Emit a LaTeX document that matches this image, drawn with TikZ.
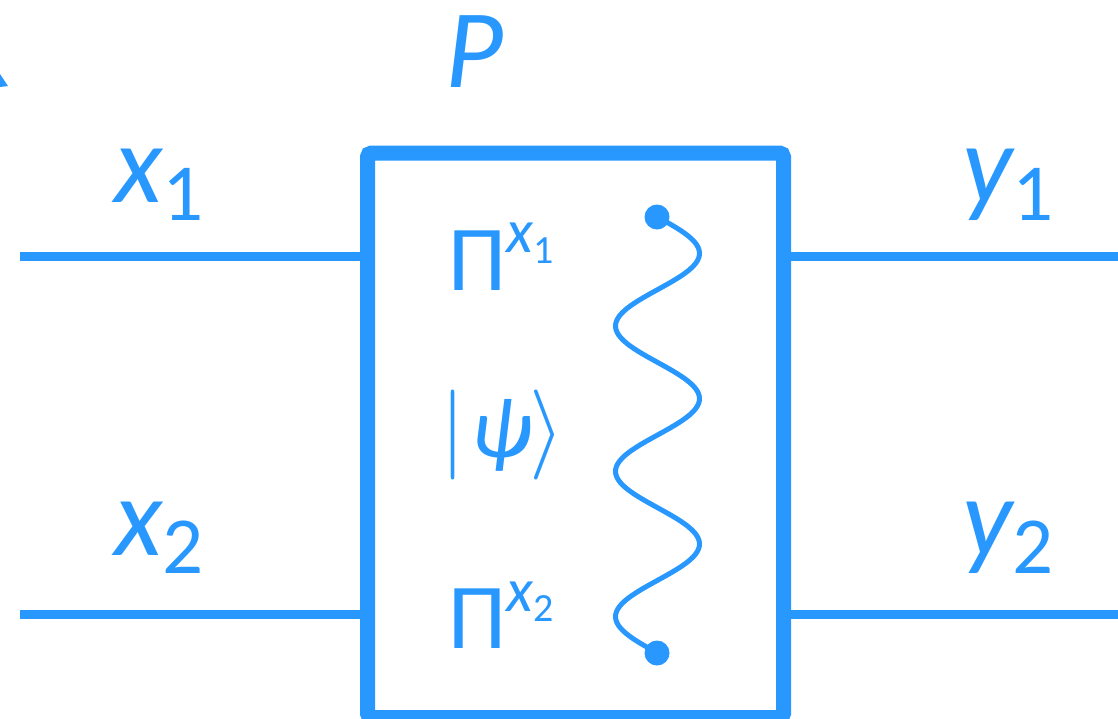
\documentclass[tikz,border=0pt]{standalone}
\usepackage{graphicx}
\usepackage{fontspec}
\setmainfont{Carlito}
\definecolor{qblue}{RGB}{40,152,255}
\tikzset{
  lbl/.style={anchor=base west, inner sep=0pt, text=qblue},
  wire/.style={draw=qblue, line width=9pt},
  boxst/.style={draw=qblue, line width=15pt, rounded corners=4pt, minimum width=416pt, minimum height=564.5pt, inner sep=0pt},
  wave/.style={draw=qblue, line width=5pt},
  dotst/.style={circle, fill=qblue, inner sep=0pt, minimum size=25pt},
}
\newcommand{\bigfs}{\fontsize{112}{112}\selectfont}
\newcommand{\subfs}{\fontsize{81}{81}\selectfont}
\newcommand{\bigmath}[1]{\scalebox{9}{\fontsize{10}{10}\selectfont$#1$}}
\begin{document}
\begin{tikzpicture}[x=1pt,y=-1pt]
\useasboundingbox (0,0) rectangle (1118,718);
% partial mark at top-left edge
\fill[qblue] (0,74) -- (8,86) -- (0,87) -- cycle;
% box
\node[boxst] (box) at (575.5,435.25) {};
% wires
\coordinate (in1) at (20,256);
\coordinate (in2) at (20,614);
\coordinate (out1) at (1118,256);
\coordinate (out2) at (1118,614);
\draw[wire] (in1) -- (box.west |- in1);
\draw[wire] (in2) -- (box.west |- in2);
\draw[wire] (box.east |- out1) -- (out1);
\draw[wire] (box.east |- out2) -- (out2);
% labels
\node[lbl] (P) at (445,87) {\bigfs\itshape P};
\node[lbl] (x1) at (114,202) {\bigfs\itshape x\raisebox{-18pt}{\subfs\upshape 1}};
\node[lbl] (x2) at (114,555) {\bigfs\itshape x\raisebox{-18pt}{\subfs\upshape 2}};
\node[lbl] (y1) at (962,202) {\bigfs\itshape y\raisebox{-18pt}{\subfs\upshape 1}};
\node[lbl] (y2) at (962,555) {\bigfs\itshape y\raisebox{-18pt}{\subfs\upshape 2}};
\node[lbl] (pi1) at (448,290) {\fontsize{93}{93}\selectfont Π\raisebox{38pt}{\fontsize{62}{62}\selectfont\itshape x}\raisebox{27pt}{\fontsize{40}{40}\selectfont 1}};
\node[lbl] (pi2) at (448,648) {\fontsize{93}{93}\selectfont Π\raisebox{37pt}{\fontsize{62}{62}\selectfont\itshape x}\raisebox{27pt}{\fontsize{40}{40}\selectfont 2}};
\node[lbl] (psi) at (440,457) {\bigmath{|}\hspace{6pt}\fontsize{86}{86}\selectfont\textit{ψ}\hspace{-3pt}\bigmath{\rangle}};
% entangled wave
\node[dotst] (d1) at (657,217) {};
\node[dotst] (d2) at (657,653) {};
\draw[wave] plot[domain=0:1080, samples=160, smooth] ({657.5+42*sin(\x)}, {217+\x*0.403704});
\end{tikzpicture}
\end{document}
